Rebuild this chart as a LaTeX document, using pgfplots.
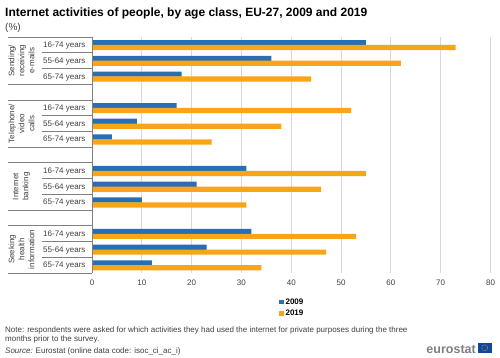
\documentclass[border=0pt]{standalone}
\usepackage{pgfplots}
\pgfplotsset{compat=1.18}
\usepackage{fontspec}
\setmainfont{Liberation Sans}
\definecolor{eblue}{HTML}{286EB4}
\definecolor{eorange}{HTML}{FAA519}
\definecolor{etext}{HTML}{404040}
\definecolor{eline}{HTML}{808080}
\definecolor{egrid}{HTML}{D9D9D9}
\definecolor{eflag}{HTML}{0E47A1}
\begin{document}
\begin{tikzpicture}[x=1pt,y=1pt]
\path[use as bounding box,fill=white] (0,0) rectangle (500,357);
\node[anchor=base west,inner sep=0pt,font=\bfseries\fontsize{12}{14}\selectfont] at (5,340) {Internet activities of people, by age class, EU-27, 2009 and 2019};
\node[anchor=base west,inner sep=0pt,text=etext,font=\fontsize{10}{12}\selectfont] at (5,326) {(\%)};
\begin{axis}[
  at={(92pt,84pt)},anchor=south west,
  scale only axis,width=398.5pt,height=236pt,
  xmin=0,xmax=80,ymin=-0.5,ymax=14.5,y dir=reverse,
  clip=false,
  axis line style={draw=none},
  axis x line*=bottom,
  axis y line*=left,
  xtick={0,10,...,80},
  xmajorgrids,grid style={egrid,line width=0.8pt},
  ytick={0,1,2,4,5,6,8,9,10,12,13,14},
  yticklabels={16-74 years,55-64 years,65-74 years,16-74 years,55-64 years,65-74 years,16-74 years,55-64 years,65-74 years,16-74 years,55-64 years,65-74 years},
  tick style={draw=none},
  tick label style={font=\fontsize{8}{10}\selectfont,text=etext},
  yticklabel style={xshift=-3pt,yshift=-0.7pt},
  xticklabel style={yshift=-3.5pt},
  /pgf/number format/assume math mode=true,
  legend style={at={(axis description cs:0.469,-0.1)},anchor=north west,draw=none,fill=none,font=\bfseries\fontsize{8}{10}\selectfont,row sep=0.5pt,inner sep=0pt,legend cell align=left},
  legend image code/.code={\fill[#1] (0pt,-2pt) rectangle (4.5pt,2.5pt);},
]
\addplot[xbar,bar width=5.2pt,bar shift=2.2pt,draw=none,fill=eblue] coordinates {
 (55,0) (36,1) (18,2) (17,4) (9,5) (4,6) (31,8) (21,9) (10,10) (32,12) (23,13) (12,14)};
\addlegendentry{2009}
\addplot[xbar,bar width=5.2pt,bar shift=-2.7pt,draw=none,fill=eorange] coordinates {
 (73,0) (62,1) (44,2) (52,4) (38,5) (24,6) (55,8) (46,9) (31,10) (53,12) (47,13) (34,14)};
\addlegendentry{2019}
\draw[eline,line width=0.8pt] (axis cs:0,-0.5) -- (axis cs:0,14.5);
\draw[eline,line width=0.8pt] (axis cs:0,-0.5) -- ++(-84pt,0pt);
\draw[eline,line width=0.8pt] (axis cs:0,2.5) -- ++(-84pt,0pt);
\draw[eline,line width=0.8pt] (axis cs:0,3.5) -- ++(-84pt,0pt);
\draw[eline,line width=0.8pt] (axis cs:0,6.5) -- ++(-84pt,0pt);
\draw[eline,line width=0.8pt] (axis cs:0,7.5) -- ++(-84pt,0pt);
\draw[eline,line width=0.8pt] (axis cs:0,10.5) -- ++(-84pt,0pt);
\draw[eline,line width=0.8pt] (axis cs:0,11.5) -- ++(-84pt,0pt);
\draw[eline,line width=0.8pt] (axis cs:0,14.5) -- ++(-84pt,0pt);
\draw[eline,line width=0.8pt] (axis cs:0,0.5) -- ++(-50pt,0pt);
\draw[eline,line width=0.8pt] (axis cs:0,1.5) -- ++(-50pt,0pt);
\draw[eline,line width=0.8pt] (axis cs:0,4.5) -- ++(-50pt,0pt);
\draw[eline,line width=0.8pt] (axis cs:0,5.5) -- ++(-50pt,0pt);
\draw[eline,line width=0.8pt] (axis cs:0,8.5) -- ++(-50pt,0pt);
\draw[eline,line width=0.8pt] (axis cs:0,9.5) -- ++(-50pt,0pt);
\draw[eline,line width=0.8pt] (axis cs:0,12.5) -- ++(-50pt,0pt);
\draw[eline,line width=0.8pt] (axis cs:0,13.5) -- ++(-50pt,0pt);
\node[rotate=90,align=center,text=etext,inner sep=0pt,font=\fontsize{8}{10}\selectfont] at ([xshift=-70.5pt]axis cs:0,1) {Sending/\\receiving\\e-mails};
\node[rotate=90,align=center,text=etext,inner sep=0pt,font=\fontsize{8}{10}\selectfont] at ([xshift=-70.5pt]axis cs:0,5) {Telephone/\\video\\calls};
\node[rotate=90,align=center,text=etext,inner sep=0pt,font=\fontsize{8}{10}\selectfont] at ([xshift=-70.5pt]axis cs:0,9) {Internet\\banking};
\node[rotate=90,align=center,text=etext,inner sep=0pt,font=\fontsize{8}{10}\selectfont] at ([xshift=-70.5pt]axis cs:0,13) {Seeking\\health\\information};
\end{axis}
\node[anchor=base west,inner sep=0pt,text=etext,font=\fontsize{8}{10}\selectfont] at (5,25) {Note: respondents were asked for which activities they had used the internet for private purposes during the three};
\node[anchor=base west,inner sep=0pt,text=etext,font=\fontsize{8}{10}\selectfont] at (5,15.5) {months prior to the survey.};
\node[anchor=base west,inner sep=0pt,text=etext,font=\fontsize{8}{10}\selectfont] at (5,4) {\textit{Source:} Eurostat (online data code: isoc\_ci\_ac\_i)};
\node[anchor=base east,inner sep=0pt,text=eline,font=\bfseries\fontsize{12.5}{14}\selectfont] at (476,3.5) {eurostat};
\fill[eflag] (478,4.5) rectangle (491.5,14);
\draw[eorange,line width=0.5pt,dash pattern=on 0.8pt off 0.8pt] (484.75,9.25) circle (3pt);
\end{tikzpicture}
\end{document}
